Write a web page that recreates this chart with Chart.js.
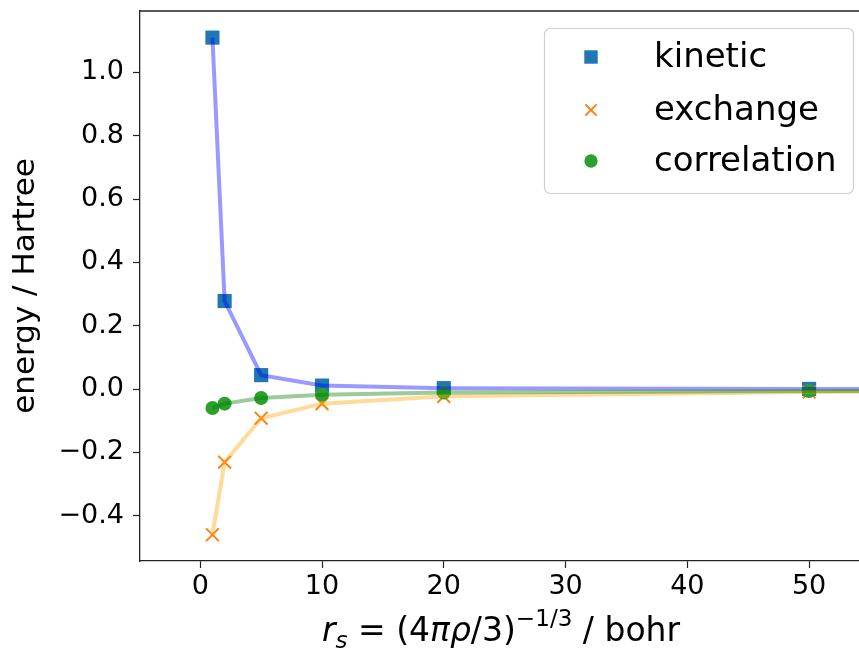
<!DOCTYPE html>
<html>
<head>
<meta charset="utf-8">
<script src="https://cdn.jsdelivr.net/npm/chart.js@4.4.1/dist/chart.umd.min.js"></script>
<style>
  html, body { margin: 0; padding: 0; background: #ffffff; overflow: hidden; }
  #wrap { width: 859px; height: 649px; }
</style>
</head>
<body>
<div id="wrap"><canvas id="c" width="859" height="649"></canvas></div>
<script>
// Wigner-Seitz radius r_s (bohr) and the energy components per electron (Hartree)
const rs          = [1, 2, 5, 10, 20, 50, 100];
const kinetic     = [1.11, 0.278, 0.044, 0.011, 0.0028, 0.00044, 0.00011];
const exchange    = [-0.46, -0.231, -0.092, -0.046, -0.023, -0.0092, -0.0046];
const correlation = [-0.060, -0.046, -0.028, -0.018, -0.011, -0.006, -0.003];

const seriesLabels = ['kinetic', 'exchange', 'correlation'];
const xTicks = [0, 10, 20, 30, 40, 50];
const yTicks = [-0.4, -0.2, 0.0, 0.2, 0.4, 0.6, 0.8, 1.0];

const FONT = '"DejaVu Sans", "Liberation Sans", sans-serif';
const pts = ys => rs.map((x, i) => ({ x: x, y: ys[i] }));

const markerColors = ['#1f77b4', '#ff7f0e', '#2ca02c'];
const lineColors = ['rgba(0,0,255,0.4)', 'rgba(255,165,0,0.4)', 'rgba(0,128,0,0.4)'];
const series = [kinetic, exchange, correlation];
const markerStyles = [
  { pointStyle: 'rect', radius: 10 },
  { pointStyle: 'crossRot', radius: 9 },
  { pointStyle: 'circle', radius: 7 }
];

const datasets = [];
series.forEach((ys, i) => {
  const m = markerStyles[i];
  datasets.push({
    label: seriesLabels[i],
    data: pts(ys),
    showLine: false,
    pointStyle: m.pointStyle,
    pointRadius: m.radius,
    pointHoverRadius: m.radius,
    pointBackgroundColor: markerColors[i],
    pointBorderColor: markerColors[i],
    pointBorderWidth: m.pointStyle === 'crossRot' ? 2 : 0,
    order: 6 - i,
    isMarker: true
  });
});
series.forEach((ys, i) => {
  datasets.push({
    label: seriesLabels[i] + ' line',
    data: pts(ys),
    showLine: true,
    borderColor: lineColors[i],
    borderWidth: 4,
    pointRadius: 0,
    pointHoverRadius: 0,
    tension: 0,
    order: 3 - i,
    isMarker: false
  });
});

const fmtY = v => (v < 0 ? '\u2212' : '') + Math.abs(v).toFixed(1);

// scales reserve no extra room for half-labels at their ends
const noEndPadding = s => {
  s.paddingTop = 0; s.paddingBottom = 0;
  s.paddingLeft = 0; s.paddingRight = 0;
};

// frame: top spine plus legend box and axis titles
const decorations = {
  id: 'decorations',
  afterDraw(chart) {
    const ctx = chart.ctx;
    const a = chart.chartArea;
    ctx.save();

    // top spine
    ctx.strokeStyle = '#222';
    ctx.lineWidth = 1.3;
    ctx.beginPath();
    ctx.moveTo(a.left, a.top);
    ctx.lineTo(a.right + 2, a.top);
    ctx.stroke();

    // legend
    const bx = 544, by = 28, bw = 309, bh = 165;
    ctx.fillStyle = 'rgba(255,255,255,0.8)';
    ctx.strokeStyle = '#d0d0d0';
    ctx.lineWidth = 1.2;
    ctx.beginPath();
    ctx.roundRect(bx + 0.5, by + 0.5, bw, bh, 6);
    ctx.fill();
    ctx.stroke();

    const rowY = [57, 110, 161];
    const markers = chart.data.datasets.filter(d => d.isMarker);
    ctx.font = '34px ' + FONT;
    ctx.textBaseline = 'middle';
    ctx.textAlign = 'left';
    markers.forEach((d, i) => {
      ctx.save();
      ctx.fillStyle = d.pointBackgroundColor;
      ctx.strokeStyle = d.pointBorderColor;
      ctx.lineWidth = d.pointBorderWidth || 0;
      Chart.helpers.drawPoint(ctx, {
        pointStyle: d.pointStyle,
        radius: d.pointStyle === 'crossRot' ? 8 : d.pointRadius * 0.95,
        rotation: 0,
        borderWidth: d.pointBorderWidth || 0
      }, 591, rowY[i]);
      ctx.restore();
      ctx.fillStyle = '#000';
      ctx.fillText(d.label, 654, rowY[i] + 1);
    });

    // y-axis title
    ctx.save();
    ctx.translate(33.5, (a.top + a.bottom) / 2);
    ctx.rotate(-Math.PI / 2);
    ctx.font = '31px ' + FONT;
    ctx.fillStyle = '#000';
    ctx.textAlign = 'center';
    ctx.textBaseline = 'alphabetic';
    ctx.fillText('energy / Hartree', 0, 0);
    ctx.restore();

    // x-axis title with sub- and superscripts
    const fs = 33;
    const parts = [
      { t: 'r', style: 'italic', size: fs, dy: 0 },
      { t: 's', style: 'italic', size: fs * 0.7, dy: fs * 0.22 },
      { t: ' = (4', style: 'normal', size: fs, dy: 0 },
      { t: '\u03c0\u03c1', style: 'italic', size: fs, dy: 0 },
      { t: '/3)', style: 'normal', size: fs, dy: 0 },
      { t: '\u22121/3', style: 'normal', size: fs * 0.7, dy: -fs * 0.45 },
      { t: ' / bohr', style: 'normal', size: fs, dy: 0 }
    ];
    let total = 0;
    parts.forEach(p => {
      ctx.font = p.style + ' ' + p.size + 'px ' + FONT;
      p.w = ctx.measureText(p.t).width;
      total += p.w;
    });
    let x = 501 - total / 2;
    const base = 641;
    ctx.fillStyle = '#000';
    ctx.textAlign = 'left';
    ctx.textBaseline = 'alphabetic';
    parts.forEach(p => {
      ctx.font = p.style + ' ' + p.size + 'px ' + FONT;
      ctx.fillText(p.t, x, base + p.dy);
      x += p.w;
    });

    ctx.restore();
  }
};

new Chart(document.getElementById('c'), {
  type: 'scatter',
  data: { datasets: datasets },
  options: {
    responsive: false,
    animation: false,
    events: [],
    layout: { autoPadding: false, padding: { left: 0, right: 0, top: 11, bottom: 0 } },
    plugins: { legend: { display: false }, tooltip: { enabled: false } },
    scales: {
      x: {
        type: 'linear',
        min: -4.95,
        max: 54.1,
        afterBuildTicks: s => { s.ticks = xTicks.map(v => ({ value: v })); },
        afterFit: s => { s.height = 88; noEndPadding(s); },
        ticks: {
          color: '#000',
          font: { family: FONT, size: 27 },
          padding: 3,
          maxRotation: 0,
          autoSkip: false,
          callback: v => String(v)
        },
        grid: { drawOnChartArea: false, drawTicks: true, tickLength: 7, tickWidth: 1.2, tickColor: '#222' },
        border: { display: true, color: '#222', width: 1.3 }
      },
      y: {
        type: 'linear',
        min: -0.543,
        max: 1.194,
        afterBuildTicks: s => { s.ticks = yTicks.map(v => ({ value: v })); },
        afterFit: s => { s.width = 140; noEndPadding(s); },
        ticks: {
          color: '#000',
          font: { family: FONT, size: 27 },
          padding: 9,
          autoSkip: false,
          callback: v => fmtY(v)
        },
        grid: { drawOnChartArea: false, drawTicks: true, tickLength: 7, tickWidth: 1.2, tickColor: '#222' },
        border: { display: true, color: '#222', width: 1.3 }
      }
    }
  },
  plugins: [decorations]
});
</script>
</body>
</html>
